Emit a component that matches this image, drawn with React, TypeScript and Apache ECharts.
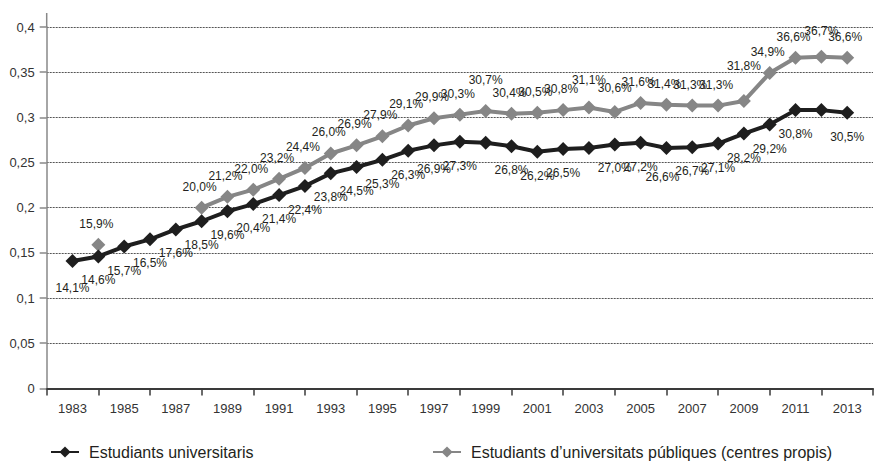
import React, { useEffect, useRef } from "react";
import * as echarts from "echarts";

const years = [
  1983, 1984, 1985, 1986, 1987, 1988, 1989, 1990, 1991, 1992, 1993, 1994, 1995, 1996, 1997, 1998,
  1999, 2000, 2001, 2002, 2003, 2004, 2005, 2006, 2007, 2008, 2009, 2010, 2011, 2012, 2013,
];

// percentages
const universitaris = [
  14.1, 14.6, 15.7, 16.5, 17.6, 18.5, 19.6, 20.4, 21.4, 22.4, 23.8, 24.5, 25.3, 26.3, 26.9, 27.3,
  27.2, 26.8, 26.2, 26.5, 26.6, 27.0, 27.2, 26.6, 26.7, 27.1, 28.2, 29.2, 30.8, 30.8, 30.5,
];
const universitarisUnlabeled = [1999, 2003, 2012];

const publiques = [
  null, 15.9, null, null, null, 20.0, 21.2, 22.0, 23.2, 24.4, 26.0, 26.9, 27.9, 29.1, 29.9, 30.3,
  30.7, 30.4, 30.5, 30.8, 31.1, 30.6, 31.6, 31.4, 31.3, 31.3, 31.8, 34.9, 36.6, 36.7, 36.6,
];

const yTicks = [0, 0.05, 0.1, 0.15, 0.2, 0.25, 0.3, 0.35, 0.4];

const nameA = "Estudiants universitaris";
const nameB = "Estudiants d\u2019universitats públiques (centres propis)";

const font = "'Liberation Sans', Arial, sans-serif";

const pctFmt = (v: number) => (v * 100).toFixed(1).replace(".", ",") + "%";

// label nudges (pixels) copied from the reference's hand-placed labels
const nudgeA: Record<number, [number, number]> = { 1983: [0, 3], 2006: [-4, 5] };
const nudgeB: Record<number, [number, number]> = {
  1999: [0, -10],
  2003: [0, -6],
  2004: [0, -3],
  2009: [0, -14],
  2012: [0, -5],
};

export default function App() {
  const ref = useRef<HTMLDivElement>(null);
  useEffect(() => {
    if (!ref.current) return;
    const chart = echarts.init(ref.current, null, { renderer: "svg" });
    const dataA = years.map((y, i) => ({
      value: [y, universitaris[i] / 100],
      label: { show: !universitarisUnlabeled.includes(y), offset: nudgeA[y] || [0, 0] },
    }));
    const dataB = years.map((y, i) => ({
      value: [y, publiques[i] == null ? null : (publiques[i] as number) / 100],
      label: { offset: nudgeB[y] || [-2, 0] },
    }));
    const labelStyle = {
      show: true,
      fontFamily: font,
      fontSize: 12,
      color: "#231f20",
      formatter: (p: any) => pctFmt(p.value[1]),
    };
    const legendBase = {
      top: 444,
      padding: 0,
      itemWidth: 28,
      itemHeight: 14,
      selectedMode: false,
      textStyle: { fontFamily: font, fontSize: 16, color: "#231f20", padding: [0, 0, 0, 5] },
    };
    chart.setOption({
      animation: false,
      grid: { left: 46.7, top: 27, width: 837, height: 361.4, containLabel: false },
      xAxis: [
        {
          type: "value",
          min: 1982,
          max: 2014,
          interval: 2,
          position: "bottom",
          axisLine: { show: true, lineStyle: { color: "#3a3a3a", width: 2 } },
          axisTick: { show: true, length: 7, lineStyle: { color: "#3a3a3a", width: 1.5 } },
          axisLabel: { show: false },
          splitLine: { show: false },
        },
        {
          type: "value",
          min: 1982,
          max: 2014,
          interval: 1,
          position: "bottom",
          axisLine: { show: false },
          axisTick: { show: false },
          splitLine: { show: false },
          axisLabel: {
            margin: 14,
            fontFamily: font,
            fontSize: 13,
            color: "#333",
            formatter: (v: number) => (years.includes(v) && v % 2 === 1 ? String(v) : ""),
          },
        },
      ],
      yAxis: {
        type: "value",
        min: 0,
        max: 0.4,
        interval: 0.05,
        axisLine: { show: true, lineStyle: { color: "#888", width: 1.5 } },
        axisTick: { show: true, length: 7, lineStyle: { color: "#888", width: 1.5 } },
        axisLabel: {
          margin: 12,
          fontFamily: font,
          fontSize: 13,
          color: "#333",
          formatter: (v: number) => {
            const t = yTicks.find((k) => Math.abs(k - v) < 1e-9);
            return t === undefined ? "" : String(t).replace(".", ",");
          },
        },
        splitLine: { show: true, lineStyle: { color: "#555", width: 1, type: [2, 1] } },
      },
      legend: [
        { ...legendBase, data: [nameA], left: 50 },
        { ...legendBase, data: [nameB], left: 432 },
      ],
      graphic: [
        {
          type: "line",
          shape: { x1: 46.7, y1: 13, x2: 46.7, y2: 27 },
          style: { stroke: "#888", lineWidth: 1.5 },
          silent: true,
        },
      ],
      series: [
        {
          name: nameA,
          type: "line",
          xAxisIndex: 0,
          data: dataA,
          symbol: "diamond",
          symbolSize: [14, 14],
          showAllSymbol: true,
          itemStyle: { color: "#1e1e1e" },
          lineStyle: { color: "#1e1e1e", width: 4 },
          label: { ...labelStyle, position: "bottom", distance: 11 },
          z: 3,
        },
        {
          name: nameB,
          type: "line",
          xAxisIndex: 0,
          data: dataB,
          connectNulls: false,
          symbol: "diamond",
          symbolSize: [14, 14],
          showAllSymbol: true,
          itemStyle: { color: "#868686" },
          lineStyle: { color: "#868686", width: 4 },
          label: { ...labelStyle, position: "top", distance: 8 },
          z: 2,
        },
      ],
    });
    return () => chart.dispose();
  }, []);
  return <div ref={ref} style={{ position: "absolute", left: 0, top: 0, width: 876, height: 461 }} />;
}
